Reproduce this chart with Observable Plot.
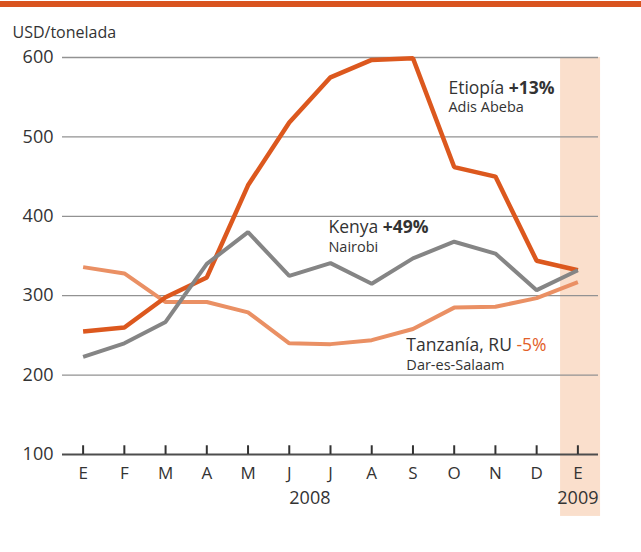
<!DOCTYPE html>
<html><head><meta charset="utf-8">
<script src="https://cdn.jsdelivr.net/npm/d3@7"></script>
<script src="https://cdn.jsdelivr.net/npm/@observablehq/plot@0.6"></script>
<style>
body{margin:0;background:#fff;font-family:"Open Sans",sans-serif;}
#wrap{position:relative;width:641px;height:552px;overflow:hidden;}
#bar{position:absolute;left:0;top:1px;width:641px;height:6px;background:#d9541f;}
#chart svg{display:block;}
</style></head><body>
<div id="wrap"><div id="bar"></div><div id="chart"></div></div>
<script>
// ---- data ----
const months = ["E","F","M","A","M","J","J","A","S","O","N","D","E"];
const etiopia  = [255,260,298,323,439,518,575,597,599,462,450,344,332];
const kenya    = [223,240,267,340,380,325,341,315,347,368,353,307,332];
const tanzania = [336,328,292,292,279,240,239,244,258,285,286,297,317];
const yTicks = [100,200,300,400,500,600];
const years = ["2008","2009"];
const yearX = [5.5, 12];
const seriesNames = ["Tanzanía","Etiopía","Kenya"];
const seriesColors = ["#ea9064","#dc581e","#858585"];
const seriesWidths = [4,4.5,4];
// annotations (data coordinates)
const annots = [
  {x: 8.86, y: 561, name: "Etiopía", pct: "+13%", bold: true,  pctColor: "#333", sub: "Adis Abeba", sy: 537},
  {x: 5.95, y: 386, name: "Kenya", pct: "+49%", bold: true, pctColor: "#333", sub: "Nairobi", sy: 361},
  {x: 7.84, y: 238, name: "Tanzanía, RU", pct: "-5%", bold: false, pctColor: "#e2602a", sub: "Dar-es-Salaam", sy: 212}
];
const band = [{x1: 11.58, x2: 12.55, y1: 22, y2: 600}];

const valuesBySeries = [tanzania, etiopia, kenya];
const rows = [];
valuesBySeries.forEach((vals, s) => vals.forEach((v, i) => rows.push({series: seriesNames[s], i, v})));

const font = '"Open Sans", sans-serif';
const plot = Plot.plot({
  width: 641, height: 552,
  marginLeft: 62, marginRight: 43, marginTop: 57, marginBottom: 98,
  style: {fontFamily: font, color: "#333", background: "transparent", overflow: "visible"},
  x: {domain: [-0.5, 12.5], axis: null},
  y: {domain: [100, 600], axis: null},
  marks: [
    Plot.rect(band, {x1: "x1", x2: "x2", y1: "y1", y2: "y2", fill: "#fadfcc"}),
    Plot.ruleY(yTicks.filter(v => v > 100), {stroke: "#929292", strokeWidth: 1.3}),
    Plot.ruleY([100], {stroke: "#4d4d4d", strokeWidth: 2}),
    Plot.ruleX(d3.range(months.length), {y1: 100, y2: 111, stroke: "#333", strokeWidth: 2}),
    Plot.axisY(yTicks, {tickSize: 0, tickPadding: 9, fontSize: 18, label: null}),
    Plot.axisX(d3.range(months.length), {tickSize: 0, tickPadding: 12, tickFormat: i => months[i], fontSize: 17, label: null}),
    Plot.text(years, {x: (d, i) => yearX[i], text: d => d, frameAnchor: "bottom", lineAnchor: "middle", dy: 44, fontSize: 18, fill: "#333"}),
    Plot.text(["USD/tonelada"], {frameAnchor: "top-left", lineAnchor: "middle", dx: -50, dy: -25, textAnchor: "start", fontSize: 16, fill: "#333"}),
    ...seriesNames.map((name, s) => Plot.line(rows.filter(r => r.series === name), {
      x: "i", y: "v", stroke: seriesColors[s], strokeWidth: seriesWidths[s], strokeLinejoin: "miter", strokeLinecap: "butt"
    })),
    Plot.text(annots, {x: "x", y: "y", text: "name", textAnchor: "start", fontSize: 17.5, fill: "#333", className: "lbl"}),
    Plot.text(annots, {x: "x", y: "sy", text: "sub", textAnchor: "start", fontSize: 14.5, fill: "#333"})
  ]
});
document.getElementById("chart").appendChild(plot);

// mixed-style labels: name + percentage
d3.select(plot).selectAll("g.lbl text").each(function(_, i) {
  const a = annots[i];
  const t = d3.select(this);
  t.text(null);
  t.append("tspan").text(a.name + " ");
  t.append("tspan").attr("font-weight", a.bold ? "bold" : null).attr("fill", a.pctColor).text(a.pct);
});
</script>
</body></html>
